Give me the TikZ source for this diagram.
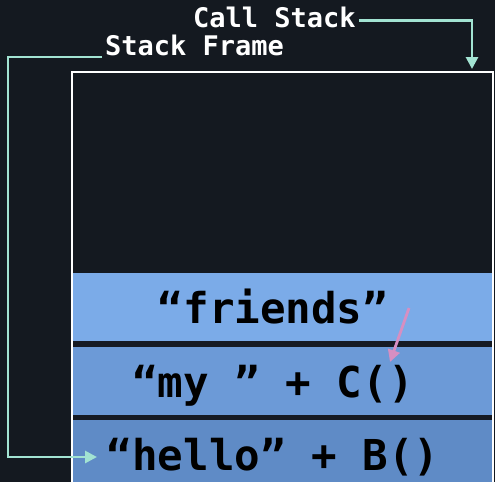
\documentclass[tikz,border=0pt]{standalone}
\usepackage{fontspec}
\setmonofont{DejaVu Sans Mono}
\usetikzlibrary{arrows.meta}
\definecolor{bg}{HTML}{141920}
\definecolor{mint}{HTML}{A2E3D2}
\definecolor{rowa}{HTML}{7BABE8}
\definecolor{rowb}{HTML}{6C9AD7}
\definecolor{rowc}{HTML}{5F8BC6}
\definecolor{sep}{HTML}{161B24}
\definecolor{pinkish}{HTML}{D68FC2}
\begin{document}
\begin{tikzpicture}[x=1pt,y=-1pt,
  lbl/.style={text=white,font=\ttfamily\bfseries\fontsize{27}{27}\selectfont,inner sep=0pt,anchor=base west},
  code/.style={text=black,font=\ttfamily\bfseries\fontsize{42.5}{42.5}\selectfont,inner sep=0pt,anchor=base},
  conn/.style={draw=mint,line width=2.8pt,-{Triangle[length=12pt,width=12pt]}},
]
\fill[bg] (0,0) rectangle (495,482);
\useasboundingbox (0,0) rectangle (495,482);
% rows
\fill[rowa] (73,273) rectangle (492,341);
\fill[rowb] (73,347) rectangle (492,415);
\fill[rowc] (73,420) rectangle (492,482);
\fill[sep] (73,341) rectangle (492,347);
\fill[sep] (73,415) rectangle (492,420);
% outer box
\draw[white,line width=2.5pt] (72,485) -- (72,72) -- (493,72) -- (493,485);
% texts
\node[code] (r1) at (273,323) {“friends”};
\node[code] (r2) at (273,397) {“my ” + C()};
\node[code] (r3) at (273,470) {“hello” + B()};
\node[lbl] (cs) at (193,27) {Call Stack};
\node[lbl] (sf) at (105,55) {Stack Frame};
\coordinate (cstip) at (472,69);
\coordinate (sftip) at (97,457);
\draw[conn] (cs.east |- 0,20.5) ++(3,0) -| (cstip);
\draw[conn] (sf.west |- 0,57) ++(-3,0) -- (8,57) |- (sftip);
\coordinate (pa) at (409,308);
\coordinate (pb) at (390,362);
\draw[pinkish,line width=2.8pt,-{Triangle[length=12pt,width=12pt]}] (pa) -- (pb);
\end{tikzpicture}
\end{document}
